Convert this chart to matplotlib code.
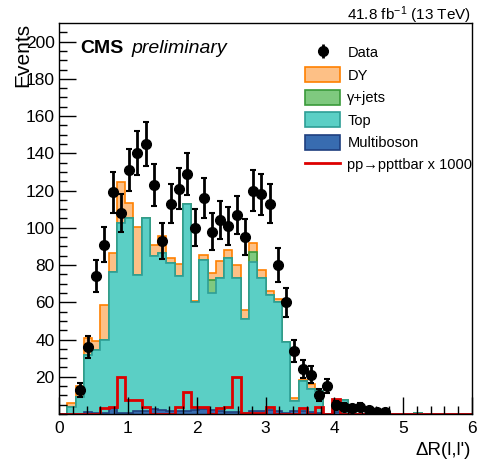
import numpy as np
import matplotlib
matplotlib.use("Agg")
import matplotlib.pyplot as plt
from matplotlib.patches import Patch
from matplotlib.lines import Line2D

plt.rcParams['font.family'] = ['Liberation Sans', 'DejaVu Sans']
plt.rcParams['mathtext.fontset'] = 'custom'
plt.rcParams['mathtext.rm'] = 'Liberation Sans'
plt.rcParams['mathtext.it'] = 'Liberation Sans:italic'

# 50 bins of 0.12 in Delta R
edges = np.linspace(0, 6, 51)

# stacked backgrounds, per bin (bins 0..35, remaining are zero)
multiboson = [0, 0, 0, 0.9, 0.4, 0.4, 3.4, 0.7, 0.7, 1.4,
              1.4, 2.5, 2.2, 1.6, 1.4, 1.8, 2.2, 2.5, 2.2, 1.4,
              1.1, 1.0, 0.7, 1.8, 1.4, 2.2, 1.4, 0.4, 1.8, 1.4,
              1.0, 0.7, 0, 1.0, 0, 0]
top = [0, 3.6, 9.0, 30.6, 34.0, 39.2, 72.8, 101.8, 104.5, 73.2,
       103.8, 82.3, 84.2, 79.4, 72.6, 110.9, 58.0, 80.1, 62.7, 71.6,
       82.6, 72.0, 50.2, 79.7, 71.6, 61.8, 58.6, 38.2, 5.0, 16.3,
       12.4, 11.7, 0, 5.0, 7.5, 3.0]
gamma_jets = [0] * 18 + [7.0, 0, 0, 0, 0, 5.4] + [0] * 12
dy = [0, 2.2, 6.0, 9.2, 4.6, 18.8, 10.2, 22.2, 8.1, 26.1,
      0.3, 5.9, 9.1, 2.7, 6.5, 0.3, 0.6, 2.7, 3.7, 9.1,
      4.3, 7.0, 4.8, 4.9, 4.2, 2.0, 2.0, 0.2, 1.7, 0.3,
      2.6, 0.2, 0, 0, 0, 0]

signal = [0, 0, 0, 0, 0, 3.4, 3.8, 19.7, 7.7, 7.7,
          3.9, 0, 0, 0, 3.8, 12.0, 3.8, 3.8, 0, 3.4,
          3.8, 19.7, 0.5, 0.5, 0.5, 3.9, 0, 0, 0, 3.4,
          0, 3.9, 0, 7.9, 0, 0]

data = [0, 0, 13, 36, 74, 91, 119, 108, 131, 140,
        145, 123, 93, 113, 121, 129, 100, 116, 98, 104,
        101, 107, 95, 120, 118, 113, 80, 60, 34, 24,
        21, 10, 15, 5, 4, 3, 4, 2, 1, 1]


def full(vals):
    out = np.zeros(len(edges) - 1)
    out[:len(vals)] = vals
    return out


mb = full(multiboson)
tp = full(top)
tp[43] = 0.5
gj = full(gamma_jets)
dyv = full(dy)
sig = full(signal)
dat = full(data)

c_mb = mb
c_tp = c_mb + tp
c_gj = c_tp + gj
c_dy = c_gj + dyv

fig = plt.figure(figsize=(4.96, 4.72), dpi=100)
ax = fig.add_axes([59 / 496, 58 / 472, 413 / 496, 391 / 472])

layers = [
    (c_dy, '#FDC086', '#FF8000', 'DY'),
    (c_gj, '#7FC97F', '#3A9A3A', 'γ+jets'),
    (c_tp, '#5BCFC5', '#2E9E96', 'Top'),
    (c_mb, '#386CB0', '#1F3F7F', 'Multiboson'),
]
for cum, fc, ec, lab in layers:
    ax.stairs(cum, edges, fill=True, facecolor=fc, edgecolor=ec, linewidth=1.2)

ax.stairs(sig, edges, color='#DD0000', linewidth=2.0, baseline=None)

centers = 0.5 * (edges[:-1] + edges[1:])
m = dat > 0
ax.errorbar(centers[m], dat[m], yerr=np.sqrt(dat[m]), fmt='o', color='black',
            ms=7, elinewidth=2, capsize=2.5, capthick=1.5)

ax.set_xlim(0, 6)
ax.set_ylim(0, 210)
ax.set_xticks(np.arange(0, 7, 1))
ax.set_xticks(np.arange(0, 6.01, 0.2), minor=True)
ax.set_yticks(np.arange(20, 201, 20))
ax.set_yticks(np.arange(0, 210, 5), minor=True)
ax.tick_params(which='both', direction='in', top=False, right=False, labelsize=12.5)
ax.tick_params(which='major', length=12, width=1)
ax.tick_params(which='minor', length=6, width=1)
ax.tick_params(axis='y', pad=3)
ax.tick_params(axis='x', pad=5)
for s in ax.spines.values():
    s.set_linewidth(1)

fig.text(32 / 496, 1 - 23 / 472, 'Events', rotation=90, ha='right', va='top', fontsize=15)
fig.text(471 / 496, 1 - 455 / 472, "ΔR(l,l')", ha='right', va='baseline', fontsize=13.5)
fig.text(80 / 496, 1 - 53 / 472, 'CMS', fontweight='bold', fontsize=14, va='baseline')
fig.text(131 / 496, 1 - 53 / 472, 'preliminary', fontstyle='italic', fontsize=14, va='baseline')
fig.text(471 / 496, 1 - 20.5 / 472, r'41.8 fb$^{-1}$ (13 TeV)', ha='right', va='baseline', fontsize=11)

data_h = ax.errorbar([], [], yerr=[], fmt='o', color='black', ms=7, elinewidth=2,
                     capsize=2.5, capthick=1.5)
handles = [data_h]
labels = ['Data']
for cum, fc, ec, lab in layers:
    handles.append(Patch(facecolor=fc, edgecolor=ec, linewidth=1.2))
    labels.append(lab)
handles.append(Line2D([], [], color='#DD0000', linewidth=2))
labels.append('pp→ppttbar x 1000')

fig.legend(handles, labels, loc='upper left', bbox_to_anchor=(305 / 496, 1 - 45 / 472),
           frameon=False, fontsize=10.5, handlelength=2.4, handleheight=1.2,
           labelspacing=0.48, handletextpad=0.5, borderpad=0, borderaxespad=0)

fig.savefig('out.png', dpi=100)
